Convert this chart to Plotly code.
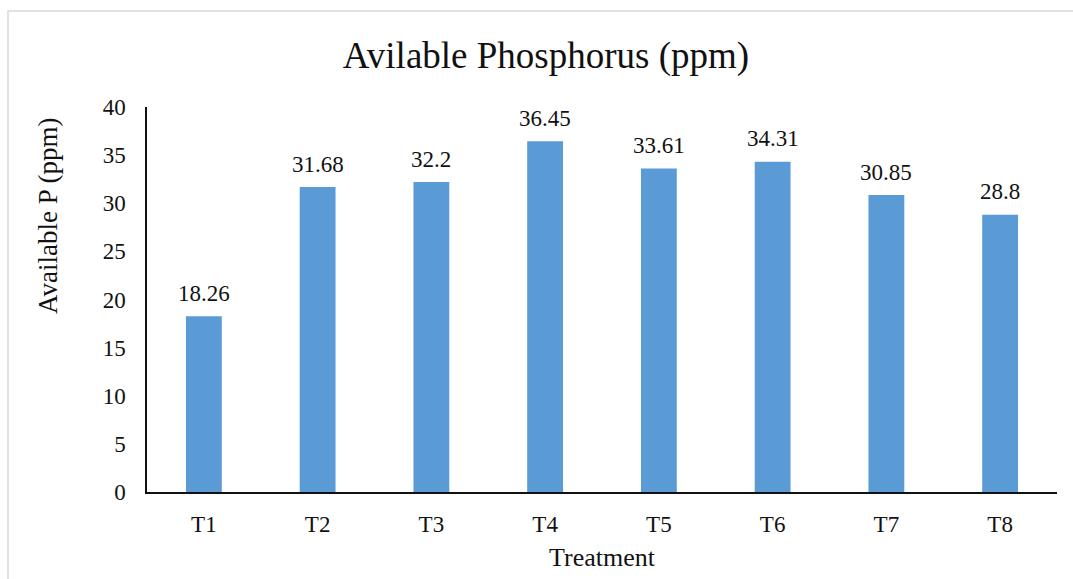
import plotly.graph_objects as go

categories = ["T1", "T2", "T3", "T4", "T5", "T6", "T7", "T8"]
values = [18.26, 31.68, 32.2, 36.45, 33.61, 34.31, 30.85, 28.8]
labels = ["18.26", "31.68", "32.2", "36.45", "33.61", "34.31", "30.85", "28.8"]
y_ticks = [0, 5, 10, 15, 20, 25, 30, 35, 40]

FONT = "Liberation Serif, Times New Roman, serif"

fig = go.Figure(go.Bar(
    x=categories, y=values,
    marker=dict(color="#5B9BD5", line=dict(width=0)),
    width=0.315,
))

L, R, T, B = 147, 16, 107, 87
W, H = 1073, 579
pw, ph = W - L - R, H - T - B

def px(x):
    return (x - L) / pw

def py(y):
    return (H - B - y) / ph

annotations = [
    dict(x=c, y=v, xref="x", yref="y", text=t, showarrow=False,
         yanchor="middle", yshift=23,
         font=dict(family=FONT, size=23, color="#111"))
    for c, v, t in zip(categories, values, labels)
]
annotations.append(dict(
    x=px(48), y=py(216), xref="paper", yref="paper", text="Available P (ppm)",
    showarrow=False, textangle=-90, xanchor="center", yanchor="middle",
    font=dict(family=FONT, size=27, color="#111")))

fig.update_layout(
    width=W, height=H,
    margin=dict(l=L, r=R, t=T, b=B),
    paper_bgcolor="white", plot_bgcolor="white",
    showlegend=False,
    title=dict(text="Avilable Phosphorus (ppm)", x=546 / W, xanchor="center",
               y=1 - 55 / H, yanchor="middle",
               font=dict(family=FONT, size=37, color="#111")),
    font=dict(family=FONT, color="#111"),
    annotations=annotations,
    shapes=[dict(type="rect", xref="paper", yref="paper",
                 x0=px(8), x1=px(1080), y0=py(590), y1=py(11),
                 line=dict(color="#d9d9d9", width=1.5), layer="below")],
)
fig.update_xaxes(
    showline=True, linecolor="#111", linewidth=2, showgrid=False,
    ticks="", tickfont=dict(family=FONT, size=23, color="#111"),
    ticklabelstandoff=10,
    title=dict(text="Treatment", font=dict(family=FONT, size=26, color="#111"), standoff=12),
)
fig.update_yaxes(
    range=[0, 40], tickvals=y_ticks, showline=True, linecolor="#111", linewidth=1.5,
    showgrid=False, zeroline=False, ticks="",
    tickfont=dict(family=FONT, size=23, color="#111"),
    ticklabelstandoff=15,
)

fig.write_html("out.html")
